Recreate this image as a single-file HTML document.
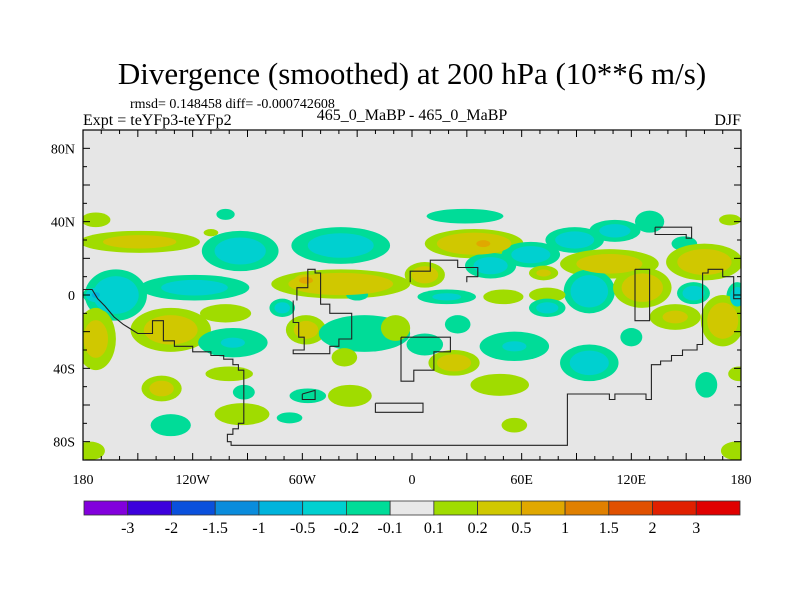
<!DOCTYPE html>
<html><head><meta charset="utf-8"><style>
html,body{margin:0;padding:0;background:#fff}
svg{display:block}
text{font-family:"Liberation Serif",serif;fill:#000}
</style></head><body>
<svg id="chart" width="800" height="600" viewBox="0 0 800 600">
<text x="412" y="84" font-size="31" text-anchor="middle">Divergence (smoothed) at 200 hPa (10**6 m/s)</text>
<text x="130" y="108" font-size="14">rmsd= 0.148458 diff= -0.000742608</text>
<text x="83" y="125" font-size="16">Expt = teYFp3-teYFp2</text>
<text x="412" y="120" font-size="16" text-anchor="middle">465_0_MaBP - 465_0_MaBP</text>
<text x="741" y="125" font-size="16" text-anchor="end">DJF</text>
<g id="plot"></g>
<g id="cbar"></g>
</svg>
<script>
// ---- data ----
const levels = [-3,-2,-1.5,-1,-0.5,-0.2,-0.1,0.1,0.2,0.5,1,1.5,2,3];
const levelLabels = ["-3","-2","-1.5","-1","-0.5","-0.2","-0.1","0.1","0.2","0.5","1","1.5","2","3"];
const fillColors = ["#8200dc","#3c00dc","#0a50dc","#0a8cdc","#00b4dc","#00d0d0","#00dc98","#e8e8e8","#a0dc00","#d0c800","#e0a800","#e08000","#e05000","#e02000","#e00000"];
const lonTicks = [-180,-120,-60,0,60,120,180];
const lonTickLabels = ["180","120W","60W","0","60E","120E","180"];
const latTicks = [80,40,0,-40,-80];
const latTickLabels = ["80N","40N","0","40S","80S"];
// anomaly centres: lon, lat, lon-radius, lat-radius (degrees), peak value
const blobLon = [-173,-149,-110,-102,-94,-39,-162,-119,-173,-39,-58,-30,-71,-132,-102,-58,-98,-26,-37,-173,-100,-137,-92,-57,-34,-93,-132,-67,-9,
  29,34,39,43,65,89,111,130,149,174,7,72,108,97,126,160,154,178,170,144,19,50,74,74,25,56,97,120,7,23,48,161,179,56,-176,177];
const blobLat = [41,29,34,44,24,27,0,4,0,6,8,0,-7,-19,-10,-19,-26,-21,-34,-24,-43,-51,-53,-55,-55,-65,-71,-67,-18,
  43,28,28,16,22,30,35,40,28,41,11,12,17,2,4,18,1,-1,-14,-12,-1,-1,0,-7,-16,-28,-37,-23,-27,-37,-49,-49,-43,-71,-85,-85];
const blobRx = [8,33,4,5,21,27,17,30,7,38,8,6,7,22,14,11,19,25,7,11,13,11,6,10,12,15,11,7,8,
  21,27,8,14,16,16,14,8,7,6,11,8,27,14,16,21,9,6,12,14,16,11,10,10,7,19,16,6,10,14,16,6,6,7,8,8];
const blobRy = [4,6,2,3,11,10,14,7,5,8,4,3,5,12,5,8,8,10,5,17,4,7,4,4,6,6,6,3,7,
  4,8,4,7,7,7,6,6,4,3,7,4,8,12,11,10,6,8,14,7,4,4,4,5,5,8,10,5,6,7,6,7,4,4,5,5];
const blobVal = [0.15,0.3,0.14,-0.15,-0.35,-0.35,-0.45,-0.3,-0.6,0.5,0.8,-0.15,-0.3,0.35,0.15,0.3,-0.22,-0.2,0.15,0.3,0.15,0.3,-0.15,-0.15,0.15,0.15,-0.15,-0.15,0.15,
  -0.2,0.5,0.8,-0.35,-0.35,-0.35,-0.3,-0.2,-0.15,0.15,0.35,0.25,0.35,-0.45,0.4,0.4,-0.35,-0.35,0.4,0.25,-0.25,0.15,0.15,-0.3,-0.2,-0.22,-0.35,-0.15,-0.2,0.35,0.15,-0.15,0.15,0.15,0.15,0.15];
// coastline outlines (lon, lat pairs flattened)
const coastA = [-180,3,-175,3,-172,-2,-168,-6,-163,-12,-158,-16,-150,-21,-142,-21,-142,-14,-136,-14,-136,-25,-130,-25,-130,-28,-120,-28,-120,-31,-110,-31,-110,-33,-103,-33,-103,-35,-98,-35,-98,-38,-95,-38,-95,-41,-92,-41,-92,-70,-95,-70,-95,-73,-98,-73,-98,-76,-101,-76,-101,-80,-99,-80,-99,-82,85,-82,85,-54,108,-54,108,-57,111,-57,111,-54,128,-54,128,-57,131,-57,131,-38,136,-38,136,-36,142,-36,142,-33,148,-33,148,-30,156,-30,156,-27,159,-27,159,12,162,12,162,14,170,14,170,10,176,10,176,-2,180,-2];
const coastB = [-65,-3,-65,-15,-62,-15,-62,-23,-59,-23,-59,-30,-65,-30,-65,-32,-45,-32,-45,-28,-40,-28,-40,-24,-33,-24,-33,-10,-45,-10,-45,-5,-50,-5,-50,12,-53,12,-53,14,-57,14,-57,4,-63,4,-63,-3];
const coastC = [-6,-23,-6,-47,1,-47,1,-41,12,-41,12,-31,21,-31,21,-23,-6,-23];
const coastD = [-20,-59,-20,-64,6,-64,6,-59,-20,-59];
const coastE = [-60,-54,-60,-57,-53,-57,-53,-52,-60,-54];
const coastF = [-1,7,-1,13,10,13,10,19,25,19,25,15,36,15,36,10,30,10,30,7];
const coastG = [122,14,122,-14,130,-14,130,14,122,14];
const coastH = [133,37,133,33,150,33,150,31,153,31,153,37,133,37];
// ---- axes ----
const X0=83, X1=741, Y0=130, Y1=460;
const xs = lon => X0 + (lon+180)/360*(X1-X0);
const ys = lat => Y0 + (90-lat)/180*(Y1-Y0);
const NS="http://www.w3.org/2000/svg";
function mk(tag, attrs, parent){const e=document.createElementNS(NS,tag);for(const k in attrs)e.setAttribute(k,attrs[k]);parent.appendChild(e);return e;}
const plot=document.getElementById('plot');
const bg=mk('rect',{x:X0,y:Y0,width:X1-X0,height:Y1-Y0,fill:'#e6e6e6'},plot);


const clip=mk('clipPath',{id:'pc'},plot); mk('rect',{x:X0,y:Y0,width:X1-X0,height:Y1-Y0},clip);
const fills=mk('g',{'clip-path':'url(#pc)'},plot);


function colorFor(v){let i=0;while(i<levels.length&&v>=levels[i])i++;return fillColors[i];}
const posT=levels.filter(l=>l>0), negT=levels.filter(l=>l<0).map(Math.abs).reverse();
const pxLon=(X1-X0)/360, pxLat=(Y1-Y0)/180;
for(let k=0;k<6;k++){
  for(let b=0;b<blobVal.length;b++){
    const v=blobVal[b], a=Math.abs(v), th=(v>0?posT:negT)[k];
    if(th===undefined||a<=th) continue;
    const f=Math.sqrt(Math.log(a/th)/Math.log(a/0.1));
    const mid = v>0 ? (th+ (posT[k+1]||th*2))/2 : -(th+(negT[k+1]||th*2))/2;
    const e=mk('ellipse',{cx:xs(blobLon[b]),cy:ys(blobLat[b]),rx:blobRx[b]*pxLon*f,ry:blobRy[b]*pxLat*f,fill:colorFor(mid)},fills);
    
    
  }
}
const coasts=mk('g',{'clip-path':'url(#pc)',fill:'none',stroke:'#222','stroke-width':1.1},plot);


[coastA,coastB,coastC,coastD,coastE,coastF,coastG,coastH].forEach(c=>{
  let p=[];for(let i=0;i<c.length;i+=2)p.push(xs(c[i]).toFixed(1)+','+ys(c[i+1]).toFixed(1));
  const l=mk('polyline',{points:p.join(' ')},coasts);
  
  
});
const frame=mk('rect',{x:X0,y:Y0,width:X1-X0,height:Y1-Y0,fill:'none',stroke:'#000','stroke-width':1.2},plot);


const ticks=mk('g',{stroke:'#000','stroke-width':1},plot);
for(let lon=-180;lon<=180;lon+=10){
  const major=lon%30===0, L=major?7:4, x=xs(lon);
  mk('line',{x1:x,y1:Y0,x2:x,y2:Y0+L},ticks); mk('line',{x1:x,y1:Y1,x2:x,y2:Y1-L},ticks);
}
for(let lat=-90;lat<=90;lat+=10){
  const major=lat%20===0, L=major?7:4, y=ys(lat);
  mk('line',{x1:X0,y1:y,x2:X0+L,y2:y},ticks); mk('line',{x1:X1,y1:y,x2:X1-L,y2:y},ticks);
}
lonTicks.forEach((lon,i)=>{
  const t=mk('text',{x:xs(lon),y:Y1+24,'font-size':14,'text-anchor':'middle'},plot);
  t.textContent=lonTickLabels[i];
  
  
});
latTicks.forEach((lat,i)=>{
  const t=mk('text',{x:X0-8,y:ys(lat)+5,'font-size':14,'text-anchor':'end'},plot);
  t.textContent=latTickLabels[i];
  
  
});
// colorbar
const cb=document.getElementById('cbar');
const CBX=84, CBW=(740-84)/fillColors.length, CBY=501, CBH=14;
fillColors.forEach((c,i)=>{
  const r=mk('rect',{x:CBX+i*CBW,y:CBY,width:CBW,height:CBH,fill:c,stroke:'#333','stroke-width':0.8},cb);
  
  
});
levelLabels.forEach((s,i)=>{
  const t=mk('text',{x:CBX+(i+1)*CBW,y:CBY+CBH+18,'font-size':16,'text-anchor':'middle'},cb);
  t.textContent=s;
  
  
});
</script>
</body></html>
